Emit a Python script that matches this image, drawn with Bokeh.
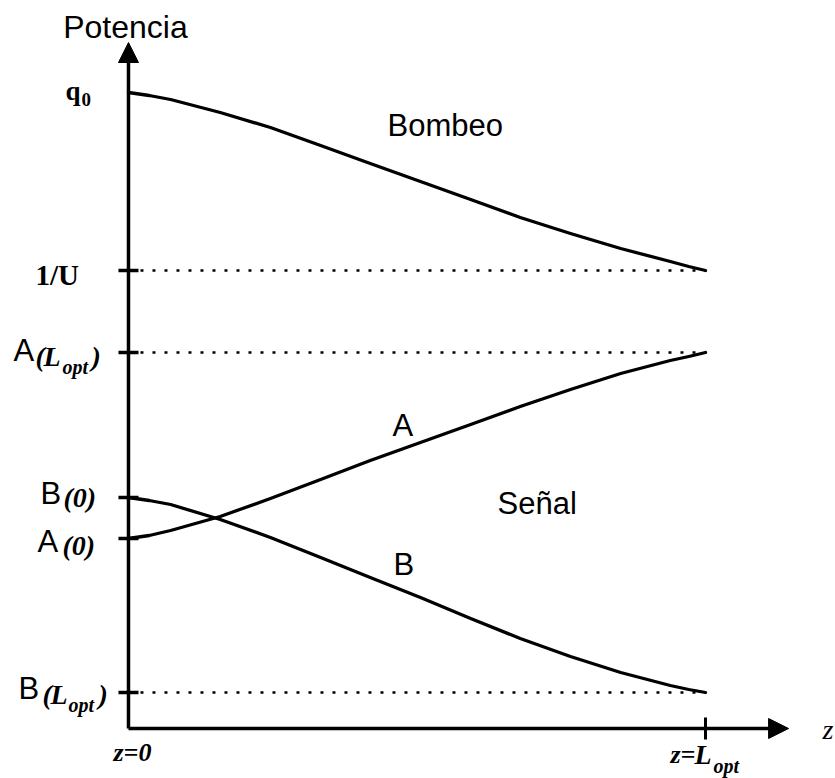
from bokeh.plotting import figure
from bokeh.models import Range1d, Arrow, NormalHead
from bokeh.core.properties import value
from bokeh.embed import file_html
from bokeh.resources import INLINE
import math

# ---- data (z normalised so that z = L_opt -> 1) ----
z      = [0.000, 0.036, 0.073, 0.159, 0.246, 0.333, 0.419, 0.506, 0.593, 0.679, 0.766, 0.853, 0.939, 0.971, 1.000]
pump   = [6.36, 6.33, 6.29, 6.16, 6.01, 5.83, 5.65, 5.47, 5.29, 5.11, 4.95, 4.80, 4.67, 4.62, 4.58]
sig_a  = [1.90, 1.93, 1.98, 2.12, 2.30, 2.49, 2.68, 2.86, 3.04, 3.22, 3.39, 3.55, 3.68, 3.72, 3.76]
sig_b  = [2.31, 2.28, 2.24, 2.09, 1.91, 1.71, 1.51, 1.31, 1.10, 0.90, 0.72, 0.56, 0.43, 0.39, 0.36]

q0      = 6.36
inv_u   = 4.58
a_lopt  = 3.76
b_0     = 2.31
a_0     = 1.90
b_lopt  = 0.36
z_lopt  = 1.0

tick_levels   = [inv_u, a_lopt, b_0, a_0, b_lopt]
dotted_levels = [inv_u, a_lopt, b_lopt]

# axis extents (layout)
z_axis_end = 1.144
p_axis_end = 6.86

p = figure(width=835, height=778, x_range=Range1d(-0.2218, 1.2253),
           y_range=Range1d(-0.50, 7.28), min_border=0,
           toolbar_location=None, output_backend="svg",
           x_axis_type=None, y_axis_type=None)
p.outline_line_color = None
p.background_fill_color = "white"
p.border_fill_color = "white"

# dotted guide lines
p.segment(x0=[0] * len(dotted_levels), y0=dotted_levels,
          x1=[z_lopt] * len(dotted_levels), y1=dotted_levels,
          line_color="black", line_width=2.6, line_dash="3 9")

# curves
for ys in (pump, sig_a, sig_b):
    p.line(z, ys, line_color="black", line_width=3.3, line_join="round", line_cap="round")

# axes with arrow heads
p.add_layout(Arrow(end=NormalHead(size=20, fill_color="black", line_color="black"),
                   x_start=0, y_start=0, x_end=z_axis_end, y_end=0,
                   line_color="black", line_width=3.5))
p.add_layout(Arrow(end=NormalHead(size=20, fill_color="black", line_color="black"),
                   x_start=0, y_start=0, x_end=0, y_end=p_axis_end,
                   line_color="black", line_width=3.5))

# ticks
p.dash(x=[0] * len(tick_levels), y=tick_levels, size=20, line_width=3.5, line_color="black")
p.dash(x=[z_lopt], y=[0], size=22, angle=math.pi / 2, line_width=3, line_color="black")

SANS = "Liberation Sans"
SERIF = "Liberation Serif"

def txt(x, y, s, font, size, style="normal", dx=0, dy=0, align="left"):
    # empirical correction of the baseline placement
    corr = round(size * (0.38 if font == SANS else 0.29))
    p.text(x=[x], y=[y], text=[s], x_offset=dx, y_offset=dy - corr,
           text_font=value(font), text_font_size=f"{size}px",
           text_font_style=style, text_baseline="alphabetic",
           text_align=align, text_color="black")

# y axis title
txt(0, p_axis_end, "Potencia", SANS, 32, dx=-3, dy=-4, align="center")

# q0
txt(0, q0, "q", SERIF, 27, "bold", dx=-63, dy=6)
txt(0, q0, "0", SERIF, 19, "bold", dx=-47, dy=13)
# 1/U
txt(0, inv_u, "1/U", SERIF, 29, "bold", dx=-93, dy=12)
# A(L_opt)
txt(0, a_lopt, "A", SANS, 31, dx=-115, dy=10)
txt(0, a_lopt, "(", SERIF, 28, "bold italic", dx=-93, dy=12)
txt(0, a_lopt, "L", SERIF, 28, "bold italic", dx=-85, dy=12)
txt(0, a_lopt, "opt", SERIF, 20, "bold italic", dx=-66, dy=20)
txt(0, a_lopt, ")", SERIF, 28, "bold italic", dx=-37, dy=12)
# B(0)
txt(0, b_0, "B", SANS, 31, dx=-88, dy=8)
txt(0, b_0, "(0)", SERIF, 28, "bold italic", dx=-65, dy=8)
# A(0)
txt(0, a_0, "A", SANS, 31, dx=-91, dy=15)
txt(0, a_0, "(0)", SERIF, 28, "bold italic", dx=-66, dy=15)
# B(L_opt)
txt(0, b_lopt, "B", SANS, 31, dx=-110, dy=8)
txt(0, b_lopt, "(", SERIF, 28, "bold italic", dx=-86, dy=10)
txt(0, b_lopt, "L", SERIF, 28, "bold italic", dx=-78, dy=10)
txt(0, b_lopt, "opt", SERIF, 20, "bold italic", dx=-60, dy=18)
txt(0, b_lopt, ")", SERIF, 28, "bold italic", dx=-30, dy=10)

# x axis labels
txt(0, 0, "z=0", SERIF, 26, "bold italic", dx=-15, dy=32)
txt(z_lopt, 0, "z=", SERIF, 26, "bold italic", dx=-35, dy=34)
txt(z_lopt, 0, "L", SERIF, 28, "bold italic", dx=-11, dy=34)
txt(z_lopt, 0, "opt", SERIF, 20, "bold italic", dx=8, dy=43)
txt(z_axis_end, 0, "z", SERIF, 28, "italic", dx=34, dy=9)

# curve labels
txt(0.449, 5.91, "Bombeo", SANS, 31)
txt(0.6395, 2.13, "Señal", SANS, 31)
txt(0.4575, 2.91, "A", SANS, 31)
txt(0.4593, 1.52, "B", SANS, 31)

open("out.html", "w").write(file_html(p, INLINE))
